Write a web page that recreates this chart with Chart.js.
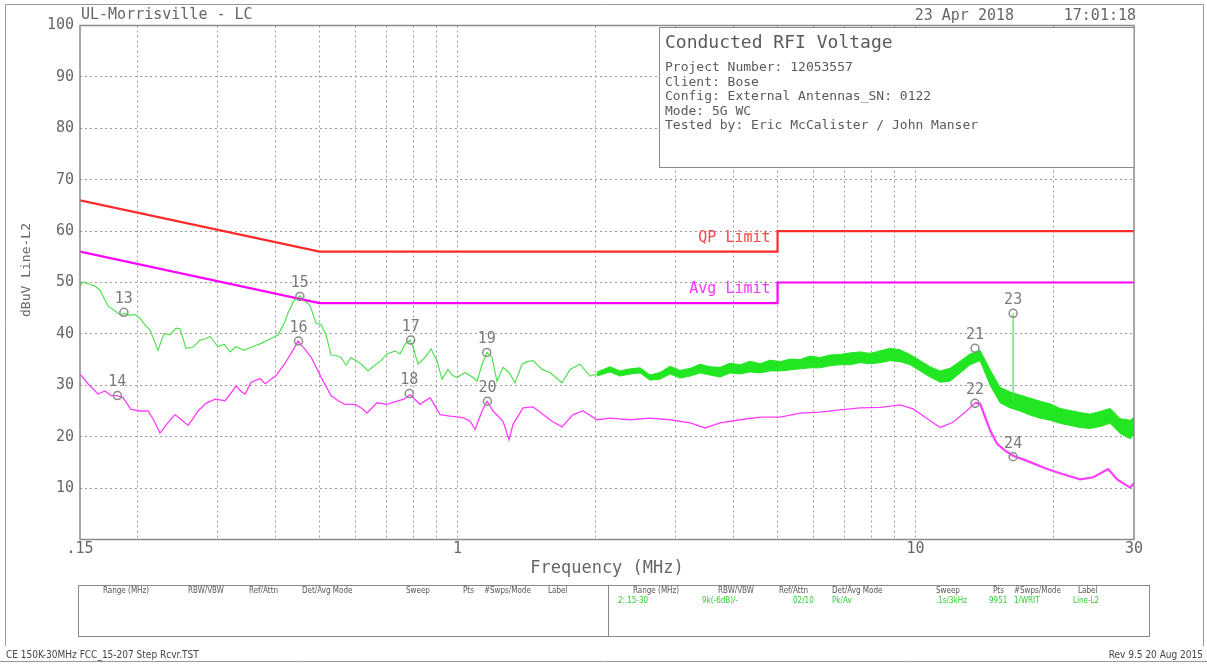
<!DOCTYPE html>
<html>
<head>
<meta charset="utf-8">
<title>Conducted RFI Voltage</title>
<script src="https://cdn.jsdelivr.net/npm/chart.js@4.4.1/dist/chart.umd.min.js"></script>
<style>
  html, body { margin: 0; padding: 0; background: #fff; }
  canvas { display: block; }
</style>
</head>
<body>
<canvas id="emi-plot" width="1207" height="664"></canvas>
<script>
'use strict';

// peak detector trace below 2 MHz (MHz / dBuV)
const peakFreq = [
  0.150, 0.1523, 0.1577, 0.1617, 0.1659, 0.1727, 0.1788, 0.1843, 0.1871, 0.1929,
  0.1978, 0.2028, 0.2090, 0.2133, 0.2220, 0.2288, 0.2358, 0.2430, 0.2480, 0.2556,
  0.2647, 0.2742, 0.2812, 0.2884, 0.3002, 0.3094, 0.3190, 0.3287, 0.3422, 0.3527,
  0.3635, 0.3746, 0.3861, 0.4059, 0.4184, 0.4269, 0.4400, 0.4535, 0.4650, 0.4768,
  0.4914, 0.5039, 0.5167, 0.5298, 0.5433, 0.5571, 0.5713, 0.5858, 0.6007, 0.6191,
  0.6380, 0.6642, 0.6811, 0.7020, 0.7308, 0.7493, 0.7684, 0.7879, 0.7999, 0.8080,
  0.8203, 0.8497, 0.8757, 0.9026, 0.9256, 0.9539, 0.9733, 0.9981, 1.039, 1.082,
  1.104, 1.132, 1.161, 1.190, 1.220, 1.258, 1.296, 1.336, 1.384, 1.419,
  1.463, 1.531, 1.593, 1.692, 1.762, 1.852, 1.948, 2.018
];
const peakLevel = [
  49.3, 50.1, 49.6, 49.3, 48.5, 45.4, 44.5, 43.6, 44.0, 43.6,
  43.8, 43.0, 41.5, 40.8, 36.8, 40.1, 39.8, 41.1, 41.0, 37.2,
  37.4, 38.8, 39.0, 39.5, 37.5, 38.0, 36.5, 37.5, 36.8, 37.3,
  37.8, 38.2, 38.8, 39.8, 42.0, 44.1, 46.5, 47.4, 46.4, 45.5,
  42.1, 41.8, 39.8, 35.9, 35.8, 35.4, 33.9, 35.4, 34.8, 34.0,
  32.8, 34.1, 34.8, 36.1, 36.7, 36.1, 38.0, 38.8, 37.5, 36.1,
  34.1, 35.4, 37.1, 34.8, 31.2, 33.1, 32.0, 31.5, 32.5, 31.5,
  30.8, 34.1, 36.4, 35.4, 30.8, 33.5, 32.5, 30.5, 34.1, 34.6,
  34.8, 33.1, 32.5, 30.5, 33.1, 34.1, 31.8, 32.2
];

// above 2 MHz the peak trace is a noisy band: upper and lower edge
const noiseFreq = [
  2.018, 2.154, 2.265, 2.383, 2.505, 2.634, 2.770, 2.913, 3.063, 3.222,
  3.388, 3.562, 3.746, 3.939, 4.142, 4.355, 4.580, 4.816, 5.065, 5.325,
  5.600, 5.889, 6.192, 6.511, 6.847, 7.200, 7.572, 7.961, 8.372, 8.803,
  9.255, 9.735, 10.24, 10.77, 11.32, 11.90, 12.52, 13.16, 13.84, 14.56,
  15.30, 16.09, 16.92, 17.80, 18.71, 19.68, 20.69, 21.76, 22.88, 24.06,
  25.30, 26.61, 27.99, 29.43, 30.0
];
const noiseTop = [
  32.6, 33.6, 32.8, 33.2, 33.4, 32.0, 32.5, 33.7, 32.9, 33.3,
  34.1, 33.6, 33.5, 34.3, 34.0, 34.7, 34.2, 34.9, 34.6, 35.1,
  35.0, 35.7, 35.4, 35.9, 36.0, 36.3, 36.5, 36.2, 36.7, 37.2,
  36.9, 36.0, 34.8, 33.6, 32.8, 33.3, 34.7, 36.1, 36.8, 33.0,
  29.6, 28.7, 28.1, 27.5, 26.9, 26.4, 25.5, 25.1, 24.7, 24.4,
  24.9, 25.5, 23.5, 23.2, 23.8
];
const noiseBottom = [
  31.8, 32.6, 31.8, 32.2, 32.4, 31.0, 31.2, 32.2, 31.4, 31.8,
  32.4, 32.0, 31.6, 32.4, 32.2, 32.6, 32.4, 32.8, 32.8, 33.0,
  33.2, 33.4, 33.4, 33.8, 34.0, 34.0, 34.4, 34.2, 34.4, 34.8,
  34.6, 34.0, 32.8, 31.6, 30.6, 30.8, 32.4, 34.0, 34.8, 30.0,
  26.6, 25.6, 25.0, 24.2, 23.6, 23.2, 22.6, 22.2, 21.8, 21.6,
  22.0, 22.6, 20.6, 19.6, 20.4
];

// single high reading at marker 23
const spikeFreq = [16.34, 16.34];
const spikeLevel = [27.0, 44.0];

// average detector trace
const avgFreq = [
  0.150, 0.1562, 0.1642, 0.1701, 0.1753, 0.1807, 0.1862, 0.1938, 0.2028, 0.2111,
  0.2165, 0.2243, 0.2323, 0.2418, 0.2505, 0.2582, 0.2647, 0.2715, 0.2826, 0.2957,
  0.3110, 0.3206, 0.3287, 0.3371, 0.3440, 0.3545, 0.3709, 0.3803, 0.4019, 0.4184,
  0.4334, 0.4488, 0.4650, 0.4792, 0.5039, 0.5298, 0.5488, 0.5684, 0.5977, 0.6191,
  0.6348, 0.6675, 0.7020, 0.7381, 0.7645, 0.7879, 0.8286, 0.8713, 0.8936, 0.9163,
  0.9636, 1.029, 1.066, 1.093, 1.132, 1.161, 1.196, 1.258, 1.296, 1.323,
  1.391, 1.463, 1.538, 1.609, 1.692, 1.788, 1.881, 2.018, 2.154, 2.383,
  2.634, 2.913, 3.222, 3.474, 3.746, 4.142, 4.580, 5.065, 5.600, 6.192,
  6.847, 7.572, 8.372, 9.255, 9.883, 10.77, 11.32, 12.08, 12.97, 13.50,
  13.84, 14.56, 15.08, 15.69, 16.34, 17.53, 19.39, 21.01, 22.88, 24.44,
  26.35, 27.57, 29.43, 30.0
];
const avgLevel = [
  32.2, 30.3, 28.3, 28.9, 28.0, 28.0, 27.6, 25.3, 25.0, 25.0,
  23.5, 20.7, 22.5, 24.3, 23.2, 22.2, 23.5, 25.0, 26.5, 27.3,
  27.0, 28.5, 29.9, 28.8, 28.3, 30.6, 31.3, 30.3, 31.9, 34.0,
  36.2, 38.6, 37.0, 35.5, 31.6, 28.0, 27.0, 26.3, 26.3, 25.5,
  24.6, 26.6, 26.3, 26.9, 27.3, 28.2, 26.3, 27.6, 26.0, 24.3,
  24.0, 23.7, 23.0, 21.4, 25.0, 26.9, 25.0, 23.0, 19.4, 22.4,
  25.6, 25.8, 24.3, 23.0, 21.9, 24.3, 25.0, 23.3, 23.6, 23.3,
  23.6, 23.3, 22.7, 21.7, 22.7, 23.3, 23.8, 23.8, 24.6, 24.8,
  25.2, 25.6, 25.7, 26.2, 25.4, 23.1, 21.8, 22.8, 25.1, 26.6,
  26.4, 21.2, 18.6, 17.3, 16.3, 15.3, 13.7, 12.7, 11.7, 12.1,
  13.7, 11.7, 10.1, 11.0
];

// FCC 15.207 limits
const limitFreq = [0.15, 0.5, 5, 5, 30];
const qpLimit = [66, 56, 56, 60, 60];
const avgLimit = [56, 46, 46, 50, 50];

// numbered markers
const markerIds = [13, 14, 15, 16, 17, 18, 19, 20, 21, 22, 23, 24];
const markerFreq = [0.187, 0.181, 0.453, 0.450, 0.791, 0.785, 1.159, 1.163, 13.49, 13.49, 16.34, 16.34];
const markerLevel = [44.2, 28.0, 47.3, 38.6, 38.8, 28.4, 36.4, 26.9, 37.2, 26.5, 44.0, 16.1];

// axes
const xGridFreq = [0.15, 0.2, 0.3, 0.4, 0.5, 0.6, 0.7, 0.8, 0.9, 1, 2, 3, 4, 5, 6, 7, 8, 9, 10, 20, 30];
const xLabelFreq = [0.15, 1, 10, 30];
const xLabelText = ['.15', '1', '10', '30'];

// text blocks
const infoTitle = 'Conducted RFI Voltage';
const infoLines = [
  'Project Number: 12053557',
  'Client: Bose',
  'Config: External Antennas_SN: 0122',
  'Mode: 5G WC',
  'Tested by: Eric McCalister / John Manser'
];
const tableHeads = ['Range (MHz)', 'RBW/VBW', 'Ref/Attn', 'Det/Avg Mode', 'Sweep', 'Pts', '#Swps/Mode', 'Label'];
const tableRow = ['2:.15-30', '9k(-6dB)/-', '02/10', 'Pk/Av', '.1s/3kHz', '9951', '1/WRIT', 'Line-L2'];

const MONO = '"DejaVu Sans Mono", "Liberation Mono", monospace';
const NARROW = '"Liberation Sans Narrow", "DejaVu Sans Condensed", sans-serif';

function pts(fs, vs) {
  return fs.map((f, i) => ({ x: f, y: vs[i] }));
}

function put(ctx, str, x, y, font, color, align) {
  ctx.font = font;
  ctx.fillStyle = color;
  ctx.textAlign = align || 'left';
  ctx.textBaseline = 'middle';
  ctx.fillText(str, x, y);
}

const decor = {
  id: 'decor',
  beforeDraw(chart) {
    const ctx = chart.ctx;
    ctx.save();
    ctx.fillStyle = '#fff';
    ctx.fillRect(0, 0, chart.width, chart.height);
    ctx.restore();
  },
  afterDraw(chart) {
    const ctx = chart.ctx;
    const a = chart.chartArea;
    const xs = chart.scales.x;
    const ys = chart.scales.y;
    ctx.save();

    // plot frame
    ctx.strokeStyle = '#8a8a8a';
    ctx.lineWidth = 1.5;
    ctx.strokeRect(a.left, a.top, a.right - a.left, a.bottom - a.top);

    // info box
    ctx.fillStyle = '#fff';
    ctx.fillRect(659, 27, a.right - 659, 140);
    ctx.lineWidth = 1;
    ctx.strokeStyle = '#8a8a8a';
    ctx.strokeRect(659.5, 27.5, a.right - 659.5, 140);
    put(ctx, infoTitle, 665, 43, '18px ' + MONO, '#5a5a5a');
    infoLines.forEach((s, i) => put(ctx, s, 665, 68 + i * 14.5, '13px ' + MONO, '#5a5a5a'));

    // limit captions, just left of the 5 MHz step
    const stepX = xs.getPixelForValue(5) - 7;
    put(ctx, 'QP Limit', stepX, ys.getPixelForValue(qpLimit[2]) - 14, '15px ' + MONO, '#ff4444', 'right');
    put(ctx, 'Avg Limit', stepX, ys.getPixelForValue(avgLimit[2]) - 14, '15px ' + MONO, '#ff33ff', 'right');

    // marker numbers
    markerIds.forEach((id, i) => {
      const px = xs.getPixelForValue(markerFreq[i]);
      const py = ys.getPixelForValue(markerLevel[i]);
      put(ctx, String(id), px, py - 13, '15px ' + MONO, '#7a7a7a', 'center');
    });

    // header line
    put(ctx, 'UL-Morrisville - LC', 81, 15, '15px ' + MONO, '#666');
    put(ctx, '23 Apr 2018', 1014, 16, '15px ' + MONO, '#666', 'right');
    put(ctx, '17:01:18', 1136, 16, '15px ' + MONO, '#666', 'right');

    // axis titles
    put(ctx, 'Frequency (MHz)', (a.left + a.right) / 2, 569, '17px ' + MONO, '#666', 'center');
    ctx.save();
    ctx.translate(27, 270);
    ctx.rotate(-Math.PI / 2);
    put(ctx, 'dBuV Line-L2', 0, 0, '13px ' + MONO, '#666', 'center');
    ctx.restore();

    // settings table
    const cols = [25, 110, 171, 224, 328, 385, 406, 470];
    ctx.strokeStyle = '#888';
    ctx.lineWidth = 1;
    ctx.strokeRect(78.5, 585.5, 1071, 51);
    ctx.beginPath();
    ctx.moveTo(608.5, 585.5);
    ctx.lineTo(608.5, 636.5);
    ctx.stroke();
    [78, 608].forEach((x0) => {
      tableHeads.forEach((s, i) => put(ctx, s, x0 + cols[i], 591, '8px ' + NARROW, '#555'));
    });
    const rowCols = [10, 94, 185, 224, 328, 381, 406, 465];
    tableRow.forEach((s, i) => put(ctx, s, 608 + rowCols[i], 601, '8px ' + NARROW, '#33cc33'));

    // page frame and footer
    ctx.strokeStyle = '#999';
    ctx.beginPath();
    ctx.moveTo(5.5, 646);
    ctx.lineTo(5.5, 4.5);
    ctx.lineTo(1203.5, 4.5);
    ctx.lineTo(1203.5, 646);
    ctx.moveTo(0, 661.5);
    ctx.lineTo(1207, 661.5);
    ctx.stroke();
    put(ctx, 'CE 150K-30MHz FCC_15-207 Step Rcvr.TST', 6, 655, '10px ' + NARROW, '#444');
    put(ctx, 'Rev 9.5 20 Aug 2015', 1203, 655, '10px ' + NARROW, '#444', 'right');

    ctx.restore();
  }
};

const gridGrey = '#9a9a9a';
const bandGreen = '#22e622';

new Chart(document.getElementById('emi-plot'), {
  type: 'line',
  data: {
    datasets: [
      {
        label: 'Markers',
        data: pts(markerFreq, markerLevel),
        showLine: false,
        pointRadius: 4,
        pointBorderWidth: 1.5,
        pointBorderColor: '#8c8c8c',
        pointBackgroundColor: 'rgba(255,255,255,0)'
      },
      {
        label: 'QP Limit',
        data: pts(limitFreq, qpLimit),
        borderColor: '#ff2b2b',
        borderWidth: 2.2,
        pointRadius: 0
      },
      {
        label: 'Avg Limit',
        data: pts(limitFreq, avgLimit),
        borderColor: '#ff00ff',
        borderWidth: 2.2,
        pointRadius: 0
      },
      {
        label: 'Peak',
        data: pts(peakFreq, peakLevel),
        borderColor: '#52e052',
        borderWidth: 1.2,
        pointRadius: 0
      },
      {
        label: 'Peak spike',
        data: pts(spikeFreq, spikeLevel),
        borderColor: '#52e052',
        borderWidth: 1.2,
        pointRadius: 0
      },
      {
        label: 'Peak noise top',
        data: pts(noiseFreq, noiseTop),
        borderColor: bandGreen,
        backgroundColor: bandGreen,
        borderWidth: 1,
        pointRadius: 0,
        fill: '+1'
      },
      {
        label: 'Peak noise bottom',
        data: pts(noiseFreq, noiseBottom),
        borderColor: bandGreen,
        borderWidth: 1,
        pointRadius: 0
      },
      {
        label: 'Average',
        data: pts(avgFreq, avgLevel),
        borderColor: '#ff3cff',
        borderWidth: 1.3,
        pointRadius: 0,
        segment: {
          borderWidth: (c) => (c.p0.parsed.x > 13 ? 2.2 : 1.3)
        }
      }
    ]
  },
  options: {
    responsive: false,
    animation: false,
    devicePixelRatio: 1,
    layout: { padding: { left: 0, top: 25.5, right: 73, bottom: 0 } },
    plugins: {
      legend: { display: false },
      tooltip: { enabled: false }
    },
    elements: { line: { tension: 0 } },
    scales: {
      x: {
        type: 'logarithmic',
        min: 0.15,
        max: 30,
        afterBuildTicks: (scale) => {
          scale.ticks = xGridFreq.map((v) => ({ value: v }));
        },
        afterFit: (scale) => { scale.height = 124.5; },
        ticks: {
          autoSkip: false,
          maxRotation: 0,
          padding: 1,
          color: '#666',
          font: { family: MONO, size: 15 },
          callback: (v) => {
            const i = xLabelFreq.indexOf(v);
            return i < 0 ? '' : xLabelText[i];
          }
        },
        grid: {
          drawTicks: false,
          lineWidth: 1,
          color: (c) => (c.tick && (c.tick.value === 0.15 || c.tick.value === 30)) ? 'rgba(0,0,0,0)' : gridGrey
        },
        border: { display: false, dash: [2, 3] }
      },
      y: {
        min: 0,
        max: 100,
        afterFit: (scale) => { scale.width = 80; },
        ticks: {
          stepSize: 10,
          padding: 6,
          color: '#666',
          font: { family: MONO, size: 15 },
          callback: (v) => (v === 0 ? '' : String(v))
        },
        grid: {
          drawTicks: false,
          lineWidth: 1,
          color: (c) => (c.tick && (c.tick.value === 0 || c.tick.value === 100)) ? 'rgba(0,0,0,0)' : gridGrey
        },
        border: { display: false, dash: [2, 3] }
      }
    }
  },
  plugins: [decor]
});
</script>
</body>
</html>
